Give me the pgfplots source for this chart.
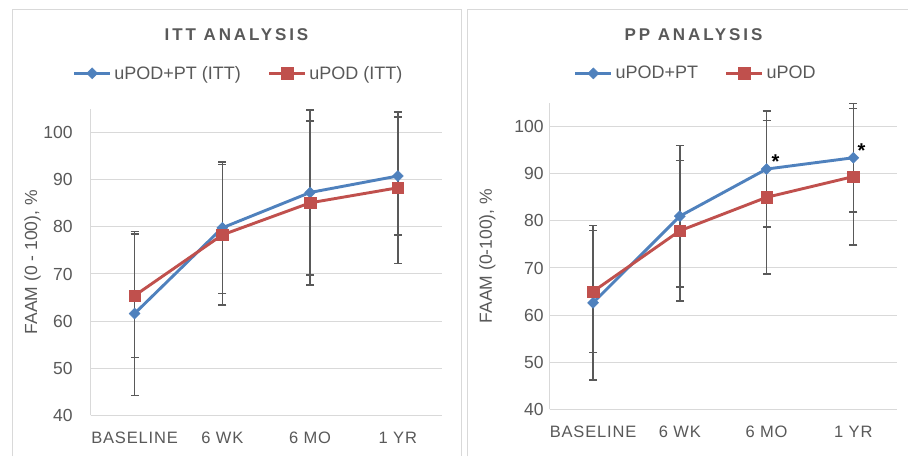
\documentclass[border=0pt]{standalone}
\usepackage{fontspec}
\setmainfont{Liberation Sans}
\newfontfamily\titlefont[LetterSpace=17]{Liberation Sans}
\newfontfamily\catfont[LetterSpace=5]{Liberation Sans}
\usepackage{pgfplots}
\usepackage{pgfplotstable}
\pgfplotsset{compat=1.18}

\definecolor{sblue}{HTML}{4F81BD}
\definecolor{sred}{HTML}{C0504D}
\definecolor{txt}{HTML}{595959}
\definecolor{gridc}{HTML}{D9D9D9}
\definecolor{ebar}{HTML}{595959}

% mean and SD
\pgfplotstableread{
x y e
0 61.6 17.4
1 79.8 14.0
2 87.3 17.5
3 90.8 12.5
}\ittpt
\pgfplotstableread{
x y e
0 65.4 13.1
1 78.3 14.9
2 85.1 17.4
3 88.3 16.1
}\ittpod
\pgfplotstableread{
x y e
0 62.6 16.4
1 81.0 15.0
2 91.0 12.3
3 93.4 11.5
}\pppt
\pgfplotstableread{
x y e
0 65.0 12.9
1 77.9 14.9
2 85.0 16.3
3 89.4 14.5
}\pppod

\pgfplotsset{
  faam/.style={
    scale only axis, height=306.2pt,
    xmin=-0.5, xmax=3.5, ymin=40, ymax=105,
    xtick={0,1,2,3}, xticklabels={BASELINE,6 WK,6 MO,1 YR},
    ytick={40,50,...,100},
    axis x line*=bottom, axis y line*=left,
    axis line style={draw=gridc, line width=1pt, -},
    ymajorgrids, grid style={draw=gridc, line width=1pt},
    major tick length=0pt,
    /pgf/number format/assume math mode=true,
    yticklabel style={font=\fontsize{17.5}{20}\selectfont, text=txt, inner sep=0pt, anchor=east},
    xticklabel style={font=\catfont\fontsize{16.5}{19}\selectfont, text=txt, inner sep=0pt, anchor=north, yshift=-16.5pt},
    every axis y label/.style={rotate=90, anchor=center, font=\fontsize{17.5}{20}\selectfont, text=txt},
    legend style={draw=none, fill=none, legend columns=2, anchor=center,
      font=\fontsize{18}{21}\selectfont, text=txt,
      nodes={inner sep=2.8pt},
      /tikz/every even column/.append style={column sep=24pt}},
    legend image code/.code={\draw[mark repeat=2,mark phase=2] plot coordinates {(0pt,0pt) (18pt,0pt) (36pt,0pt)};},
    clip=false,
  },
  ebars/.style={draw=none, mark=none, forget plot,
    error bars/.cd, y dir=both, y explicit,
    error bar style={draw=ebar, line width=1.4pt},
    error mark options={draw=ebar, rotate=90, mark size=4pt, line width=1.4pt}},
  ptline/.style={sblue, line width=2.9pt, mark=square*, mark size=3.9pt,
    mark options={rotate=45, fill=sblue, draw=sblue, line width=0.4pt}},
  podline/.style={sred, line width=2.9pt, mark=square*, mark size=5.8pt,
    mark options={fill=sred, draw=sred, line width=0.4pt}},
}

\begin{document}
\begin{tikzpicture}[x=1pt,y=1pt]
\useasboundingbox (0,0) rectangle (908,456);
\fill[white] (0,0) rectangle (908,456);
% panel frames
\draw[gridc, line width=1pt] (12,0) -- (12,446.5) -- (461.5,446.5) -- (461.5,0);
\draw[gridc, line width=1pt] (467.7,0) -- (467.7,446.5) -- (910,446.5);

\node[font=\titlefont\bfseries\fontsize{17}{20}\selectfont, text=txt] at (236.5,421.7) {ITT ANALYSIS};
\node[font=\titlefont\bfseries\fontsize{17}{20}\selectfont, text=txt] at (693.5,421.7) {PP ANALYSIS};

\begin{axis}[faam, at={(90.7pt,40.7pt)}, anchor=south west, width=351pt,
  yticklabel style={xshift=-18pt},
  ylabel={FAAM (0 - 100), \%},
  every axis y label/.append style={at={(axis description cs:-0.1658,0.5)}},
  legend style={at={(axis description cs:0.4225,1.117)}}]
\addplot[ebars] table[x=x, y=y, y error=e] {\ittpt};
\addplot[ebars] table[x=x, y=y, y error=e] {\ittpod};
\addplot[ptline] table[x=x, y=y] {\ittpt};
\addlegendentry{uPOD+PT (ITT)}
\addplot[podline] table[x=x, y=y] {\ittpod};
\addlegendentry{uPOD (ITT)}
\end{axis}

\begin{axis}[faam, at={(549.7pt,46.7pt)}, anchor=south west, width=347pt,
  yticklabel style={xshift=-6pt},
  ylabel={FAAM (0-100), \%},
  every axis y label/.append style={at={(axis description cs:-0.1798,0.5)}},
  legend style={at={(axis description cs:0.4222,1.097)}}]
\addplot[ebars] table[x=x, y=y, y error=e] {\pppt};
\addplot[ebars] table[x=x, y=y, y error=e] {\pppod};
\addplot[ptline] table[x=x, y=y] {\pppt};
\addlegendentry{uPOD+PT}
\addplot[podline] table[x=x, y=y] {\pppod};
\addlegendentry{uPOD}
\node[font=\bfseries\fontsize{20}{22}\selectfont, anchor=base] at (axis cs:2,91) [xshift=9pt, yshift=1pt] {*};
\node[font=\bfseries\fontsize{20}{22}\selectfont, anchor=base] at (axis cs:3,93.4) [xshift=8.3pt, yshift=0.5pt] {*};
\end{axis}
\end{tikzpicture}
\end{document}
